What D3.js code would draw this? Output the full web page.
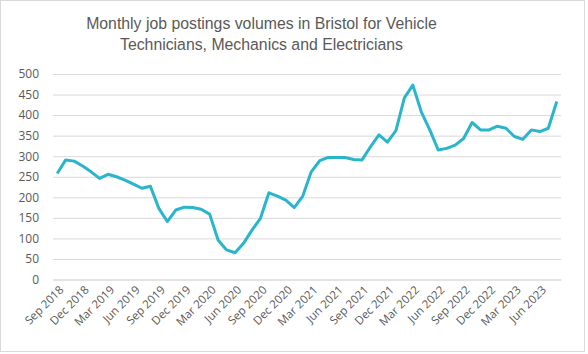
<!DOCTYPE html>
<html>
<head>
<meta charset="utf-8">
<script src="https://cdn.jsdelivr.net/npm/d3@7"></script>
<style>
  body { margin: 0; background: #fff; overflow: hidden; }
  svg { display: block; }
  text { font-family: "Open Sans", "Liberation Sans", sans-serif; fill: #595959; }
</style>
</head>
<body>
<div id="chart"></div>
<script>
var width = 588
var height = 354

var titleLines = ["Monthly job postings volumes in Bristol for Vehicle",
                  "Technicians, Mechanics and Electricians"]

// months from Sep 2018 to Aug 2023
var months = ["Sep 2018","Oct 2018","Nov 2018","Dec 2018","Jan 2019","Feb 2019","Mar 2019","Apr 2019",
  "May 2019","Jun 2019","Jul 2019","Aug 2019","Sep 2019","Oct 2019","Nov 2019","Dec 2019","Jan 2020",
  "Feb 2020","Mar 2020","Apr 2020","May 2020","Jun 2020","Jul 2020","Aug 2020","Sep 2020","Oct 2020",
  "Nov 2020","Dec 2020","Jan 2021","Feb 2021","Mar 2021","Apr 2021","May 2021","Jun 2021","Jul 2021",
  "Aug 2021","Sep 2021","Oct 2021","Nov 2021","Dec 2021","Jan 2022","Feb 2022","Mar 2022","Apr 2022",
  "May 2022","Jun 2022","Jul 2022","Aug 2022","Sep 2022","Oct 2022","Nov 2022","Dec 2022","Jan 2023",
  "Feb 2023","Mar 2023","Apr 2023","May 2023","Jun 2023","Jul 2023","Aug 2023"]

var postings = [258,291,288,276,262,246,256,250,242,232,222,227,173,141,169,176,175,171,159,96,
  72,65,88,120,149,211,203,193,175,203,262,289,297,297,297,292,291,323,352,334,
  362,442,473,408,364,315,319,327,343,382,364,364,373,368,348,341,364,360,368,433]

var yTicks = [0,50,100,150,200,250,300,350,400,450,500]

var margin = {top: 74, right: 27, bottom: 74.5, left: 53}
var innerWidth = width - margin.left - margin.right
var innerHeight = height - margin.top - margin.bottom

var svg = d3.select("#chart")
  .append("svg")
    .attr("width", width)
    .attr("height", height)

// outer chart border
svg.append("rect")
    .attr("x", 0.5).attr("y", 0.5)
    .attr("width", 584).attr("height", 351)
    .attr("fill", "#fff")
    .attr("stroke", "#d9d9d9")

// title
var title = svg.append("g")
title.selectAll("text").data(titleLines)
  .enter().append("text")
    .attr("x", 261.5)
    .attr("y", (d, i) => 29 + i * 21)
    .attr("text-anchor", "middle")
    .style("font-family", "'Liberation Sans', Arial, sans-serif")
    .style("font-size", "16px")
    .text(d => d)
// fit first line to ~351px like the reference
var w0 = title.select("text").node().getComputedTextLength()
title.selectAll("text").style("font-size", (16 * 351 / w0) + "px")

var xScale = d3.scaleBand()
  .domain(months)
  .range([0, innerWidth])

var yScale = d3.scaleLinear()
  .domain([0, 500])
  .range([innerHeight, 0])

var g = svg.append("g")
  .attr("transform", `translate(${margin.left},${margin.top})`)

// gridlines
g.append("g")
  .call(d3.axisLeft(yScale).tickValues(yTicks).tickSize(-innerWidth))
  .call(a => a.select(".domain").remove())
  .call(a => a.selectAll("text").remove())
  .selectAll("line")
    .attr("stroke", "#d9d9d9")

// y labels
g.append("g")
  .call(d3.axisLeft(yScale).tickValues(yTicks).tickSize(0).tickPadding(14))
  .call(a => a.select(".domain").remove())
  .selectAll("text")
    .style("font-size", "12px")
    .attr("fill", "#595959")

// x labels, every third month
var xAxis = d3.axisBottom(xScale)
  .tickValues(months.filter((d, i) => i % 3 === 0))
  .tickSize(0)

g.append("g")
  .attr("transform", `translate(0,${innerHeight})`)
  .call(xAxis)
  .call(a => a.select(".domain").attr("stroke", "#d9d9d9"))
  .selectAll("text")
    .style("font-size", "11.5px")
    .attr("fill", "#595959")
    .attr("text-anchor", "end")
    .attr("dy", 0)
    .attr("transform", "translate(5,9) rotate(-45)")

var line = d3.line()
  .x((d, i) => xScale(months[i]) + xScale.bandwidth() / 2)
  .y(d => yScale(d))

g.append("path")
  .datum(postings)
  .attr("fill", "none")
  .attr("stroke", "#2ab5cc")
  .attr("stroke-width", 3)
  .attr("stroke-linejoin", "round")
  .attr("d", line)
</script>
</body>
</html>
